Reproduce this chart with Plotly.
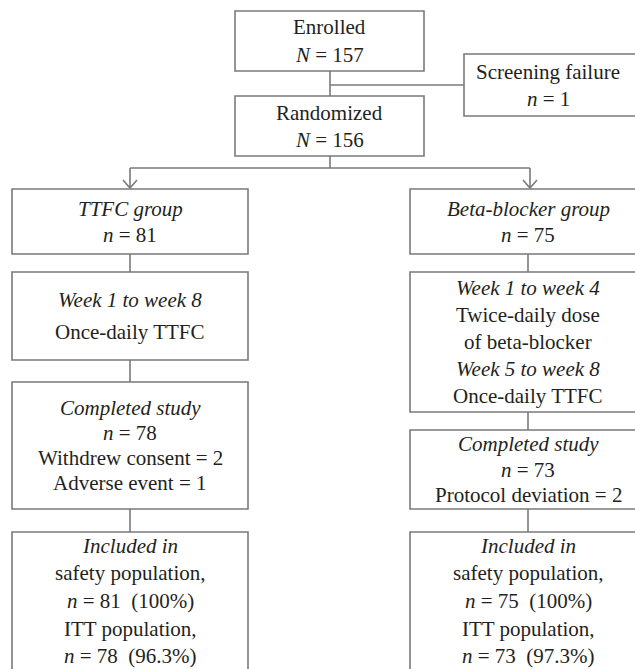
import plotly.graph_objects as go

# ---- data ----
enrolled_n = 157
screening_failure_n = 1
randomized_n = 156
ttfc_n = 81
beta_n = 75
ttfc_completed_n = 78
ttfc_withdrew = 2
ttfc_adverse = 1
beta_completed_n = 73
beta_protocol_dev = 2
ttfc_safety = (81, "100%")
ttfc_itt = (78, "96.3%")
beta_safety = (75, "100%")
beta_itt = (73, "97.3%")

def n_line(sym, v):
    return f"<i>{sym}</i> = {v}"

box_texts = {
    "enrolled": ["Enrolled", n_line("N", enrolled_n)],
    "screen": ["Screening failure", n_line("n", screening_failure_n)],
    "random": ["Randomized", n_line("N", randomized_n)],
    "ttfc": ["<i>TTFC group</i>", n_line("n", ttfc_n)],
    "beta": ["<i>Beta-blocker group</i>", n_line("n", beta_n)],
    "ttfc_wk": ["<i>Week 1 to week 8</i>", "Once-daily TTFC"],
    "beta_wk": ["<i>Week 1 to week 4</i>", "Twice-daily dose", "of beta-blocker",
                "<i>Week 5 to week 8</i>", "Once-daily TTFC"],
    "ttfc_comp": ["<i>Completed study</i>", n_line("n", ttfc_completed_n),
                  f"Withdrew consent = {ttfc_withdrew}", f"Adverse event = {ttfc_adverse}"],
    "beta_comp": ["<i>Completed study</i>", n_line("n", beta_completed_n),
                  f"Protocol deviation = {beta_protocol_dev}"],
    "ttfc_inc": ["<i>Included in</i>", "safety population,",
                 f"{n_line('n', ttfc_safety[0])}  ({ttfc_safety[1]})", "ITT population,",
                 f"{n_line('n', ttfc_itt[0])}  ({ttfc_itt[1]})"],
    "beta_inc": ["<i>Included in</i>", "safety population,",
                 f"{n_line('n', beta_safety[0])}  ({beta_safety[1]})", "ITT population,",
                 f"{n_line('n', beta_itt[0])}  ({beta_itt[1]})"],
}

# ---- layout geometry (pixels, y downward) ----
W, H = 635, 669
geom = {  # x0, x1, y0, y1, line spacing
    "enrolled": (235, 424, 11, 71, 28),
    "screen": (464, 646, 54, 116, 27),
    "random": (235, 424, 96, 156, 27),
    "ttfc": (12, 248, 189, 254, 26),
    "beta": (410, 646, 189, 254, 26),
    "ttfc_wk": (12, 248, 272, 360, 32),
    "beta_wk": (410, 646, 272, 412, 27),
    "ttfc_comp": (12, 248, 382, 509, 25),
    "beta_comp": (410, 646, 430, 509, 25.5),
    "ttfc_inc": (12, 248, 532, 672, 27.7),
    "beta_inc": (410, 646, 532, 672, 27.7),
}
LINE = dict(color="#7a7a7a", width=1.6)
FONT = dict(family="Liberation Serif, Times New Roman, serif", size=21, color="#231f20")

fig = go.Figure()
shapes = []
annotations = []

for key, lines in box_texts.items():
    x0, x1, y0, y1, sp = geom[key]
    shapes.append(dict(type="rect", xref="x", yref="y", x0=x0, x1=x1, y0=y0, y1=y1,
                       line=LINE, fillcolor="white", layer="below"))
    xc = (x0 + x1) / 2
    if key == "screen":
        xc = 548
    yc = (y0 + y1) / 2
    if key.endswith("_inc"):
        yc = 601
    n = len(lines)
    for i, t in enumerate(lines):
        yy = yc + (i - (n - 1) / 2) * sp
        annotations.append(dict(x=xc, y=yy, xref="x", yref="y", text=t, showarrow=False,
                                font=FONT, xanchor="center", yanchor="middle"))

def seg(xa, ya, xb, yb):
    shapes.append(dict(type="line", xref="x", yref="y", x0=xa, y0=ya, x1=xb, y1=yb, line=LINE))

# connectors
seg(330, 71, 330, 96)
seg(330, 85, 464, 85)
seg(330, 156, 330, 168)
seg(130, 168, 530, 168)
for xa in (130, 530):
    seg(xa, 168, xa, 188)
    shapes.append(dict(type="path", xref="x", yref="y",
                       path=f"M {xa-7},180 L {xa},188 L {xa+7},180", line=LINE))
seg(130, 254, 130, 272)
seg(130, 360, 130, 382)
seg(130, 509, 130, 532)
seg(528, 254, 528, 272)
seg(528, 412, 528, 430)
seg(528, 509, 528, 532)

fig.update_layout(
    width=W, height=H, margin=dict(l=0, r=0, t=0, b=0),
    paper_bgcolor="white", plot_bgcolor="white",
    xaxis=dict(range=[0, W], visible=False, fixedrange=True),
    yaxis=dict(range=[H, 0], visible=False, fixedrange=True),
    shapes=shapes, annotations=annotations, showlegend=False,
)
fig.write_html("out.html", config=dict(displayModeBar=False),
               post_script="document.body.style.margin='0';document.body.style.overflow='hidden';")
